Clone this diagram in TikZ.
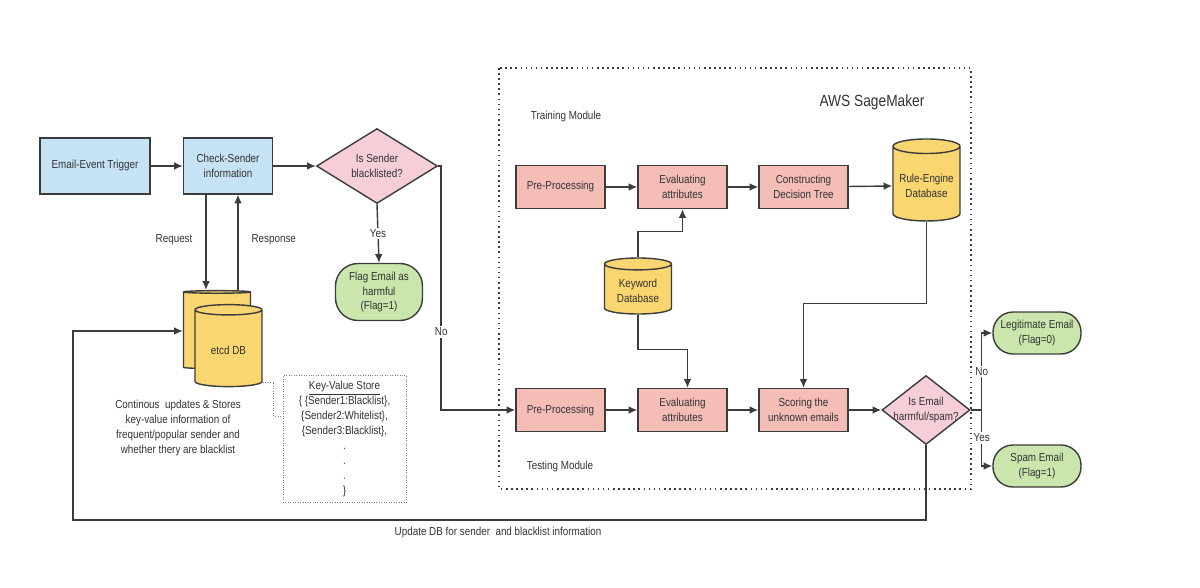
\documentclass[tikz,border=0pt]{standalone}
\usepackage{fontspec}
\setmainfont{Liberation Sans}[FakeStretch=0.85]
\usetikzlibrary{shapes.geometric,arrows.meta}
\definecolor{edge}{RGB}{60,60,60}
\definecolor{txt}{RGB}{50,50,50}
\definecolor{skyfill}{RGB}{198,226,245}
\definecolor{askfill}{RGB}{245,206,216}
\definecolor{procfill}{RGB}{244,190,182}
\definecolor{dbfill}{RGB}{249,214,112}
\definecolor{endfill}{RGB}{202,230,172}
\begin{document}
\begin{tikzpicture}[x=0.02cm,y=-0.02cm,>={Latex[length=5pt,width=4.4pt]},
  every node/.style={text=txt,font=\fontsize{6.6}{8.5}\selectfont,align=center},
  trig/.style={draw=edge,fill=skyfill,line width=0.8pt,minimum width=2.2cm,minimum height=1.12cm},
  proc/.style={draw=edge,fill=procfill,line width=0.8pt,minimum width=1.78cm,minimum height=0.86cm},
  askq/.style={diamond,draw=edge,fill=askfill,line width=0.8pt,inner sep=0pt},
  term/.style={draw=edge,fill=endfill,line width=0.8pt,minimum width=1.76cm,minimum height=0.84cm,rounded corners=0.4cm},
  dbase/.style={cylinder,shape border rotate=90,aspect=0.22,draw=edge,fill=dbfill,line width=0.8pt,minimum width=1.34cm},
  lbl/.style={fill=white,inner sep=1pt},
  flow/.style={->,draw=edge,line width=0.8pt}]
\useasboundingbox (0,0) rectangle (1200,588);

% sender check
\node[trig] (trigger) at (95,166) {Email-Event Trigger};
\node[trig,minimum width=1.78cm] (check) at (228,166) {Check-Sender\\information};
\node[askq,minimum width=2.42cm,minimum height=1.38cm] (senderq) at (377,166) {Is Sender\\blacklisted?};
\node[term,minimum width=1.74cm,minimum height=1.14cm,rounded corners=0.45cm] (flag) at (379,292) {Flag Email as\\harmful\\(Flag=1)};

\draw[flow] (trigger) -- (check);
\draw[flow] (check) -- (senderq);
\draw[flow] (senderq.south) -- node[lbl] {Yes} (flag.north);

% etcd store
\node[dbase,minimum height=1.56cm] (etcdback) at (217,331) {};
\node[dbase,minimum height=1.64cm] (etcddb) at (228.5,350) {etcd DB};
\node (desc) at (178,428) {Continous\ \ updates \& Stores\\key-value information of\\frequent/popular sender and\\whether thery are blacklist};
\node[draw=gray,densely dotted,minimum width=2.46cm,minimum height=2.54cm] (kv) at (344.5,439)
  {\underline{Key-Value Store}\\\{ \{Sender1:Blacklist\},\\\{Sender2:Whitelist\},\\\{Sender3:Blacklist\},\\.\\.\\.\\\}};

\coordinate (req) at ([xshift=-0.44cm]check.south);
\coordinate (resp) at ([xshift=0.2cm]check.south);
\draw[flow] (req) -- node[left=4pt,pos=0.47] {Request} (req |- etcdback.north);
\draw[flow] (resp |- etcdback.north) -- node[right=4pt,pos=0.53] {Response} (resp);
\coordinate (kvin) at ([yshift=0.46cm]kv.west);
\draw[gray,densely dotted] ([yshift=-0.64cm]etcddb.east) -- ++(11,0) |- (kvin);

% AWS SageMaker
\draw[edge,line width=0.9pt,dash pattern=on 0.9pt off 2pt] (499,68) rectangle (971,489);
\node[font=\fontsize{9.2}{11}\selectfont] (aws) at (872,102) {AWS SageMaker};
\node (trainlbl) at (566,117) {Training Module};
\node (testlbl) at (560,466) {Testing Module};

\node[proc] (pretrain) at (560.5,187) {Pre-Processing};
\node[proc] (evaltrain) at (682.5,187) {Evaluating\\attributes};
\node[proc] (tree) at (803.5,187) {Constructing\\Decision Tree};
\node[dbase,minimum height=1.64cm] (rules) at (926.5,186) {Rule-Engine\\Database};
\node[dbase,minimum height=1.12cm] (keyword) at (638,291) {Keyword\\Database};

\node[proc] (pretest) at (560.5,410) {Pre-Processing};
\node[proc] (evaltest) at (682.5,410) {Evaluating\\attributes};
\node[proc] (score) at (803.5,410) {Scoring the\\unknown emails};
\node[askq,minimum width=1.76cm,minimum height=1.38cm,inner sep=-6pt] (spamq) at (926,410) {Is Email\\harmful/spam?};

\node[term] (legit) at (1037,333) {Legitimate Email\\(Flag=0)};
\node[term] (spam) at (1037,466) {Spam Email\\(Flag=1)};

\draw[flow] (senderq.east) -- ++(3,0) |- node[lbl,pos=0.34] {No} (pretest.west);
\draw[flow] (pretrain) -- (evaltrain);
\draw[flow] (evaltrain) -- (tree);
\draw[flow] (tree) -- (rules.west);
\draw[flow] (keyword.north) -- ++(0,-26) -| (evaltrain.south);
\draw[flow] (keyword.south) -- ++(0,35) -| ([xshift=0.1cm]evaltest.north);
\draw[flow] (rules.south) -- ++(0,82) -| (score.north);
\draw[flow] (pretest) -- (evaltest);
\draw[flow] (evaltest) -- (score);
\draw[flow] (score) -- (spamq.west);

\coordinate (branch) at ([xshift=0.22cm]spamq.east);
\draw[draw=edge,line width=0.8pt] (spamq.east) -- (branch);
\draw[flow] (branch) |- node[lbl,pos=0.25] {No} (legit.west);
\draw[flow] (branch) |- node[lbl,pos=0.25] {Yes} (spam.west);

% feedback to etcd
\coordinate (loopcorner) at (73,520);
\draw[flow] (spamq.south) |- (loopcorner) |- (etcdback.west);
\node (updlbl) at (498,532) {Update DB for sender\ \ and blacklist information};
\end{tikzpicture}
\end{document}
